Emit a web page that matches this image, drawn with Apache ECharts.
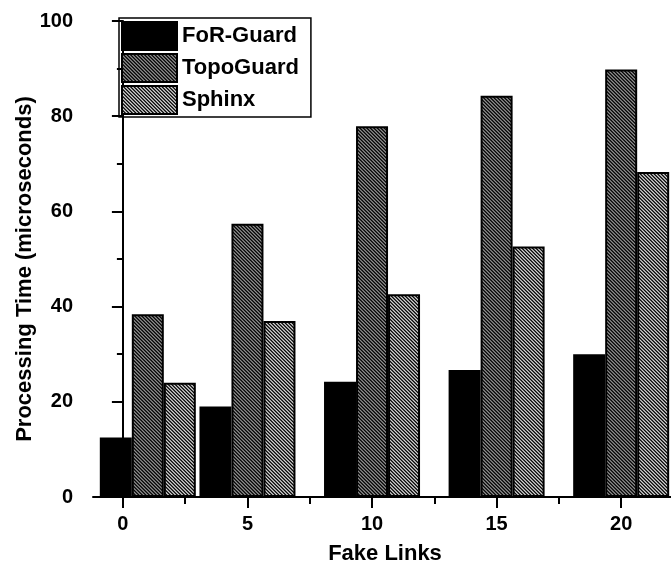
<!DOCTYPE html>
<html>
<head>
<meta charset="utf-8">
<script src="https://cdn.jsdelivr.net/npm/echarts@6/dist/echarts.min.js"></script>
<style>
  html, body { margin: 0; padding: 0; background: #fff; }
  #chart { width: 671px; height: 570px; }
</style>
</head>
<body>
<div id="chart"></div>
<script>
// Processing time per number of injected fake links
const fakeLinks = [1, 5, 10, 15, 20];
const forGuard  = [12.5, 19.0, 24.2, 26.7, 30.0];
const topoGuard = [38.4, 57.4, 77.9, 84.3, 89.8];
const sphinx    = [24.0, 37.0, 42.6, 52.6, 68.3];
const seriesNames = ['FoR-Guard', 'TopoGuard', 'Sphinx'];

const xTicks = [0, 5, 10, 15, 20];
const xMinorTicks = [2.5, 7.5, 12.5, 17.5];
const yMax = 100;
const yStep = 20;

const FONT = '"Liberation Sans", Arial, sans-serif';

// diagonal hatch fill: anti-aliased black "\" stripes over a grey ground
function hatch(ground) {
  const tile = 7, period = 3.5, stripe = 1.7, ss = 4;
  const c = document.createElement('canvas');
  c.width = c.height = tile;
  const g = c.getContext('2d');
  const img = g.createImageData(tile, tile);
  for (let y = 0; y < tile; y++) {
    for (let x = 0; x < tile; x++) {
      let hit = 0;
      for (let sy = 0; sy < ss; sy++) {
        for (let sx = 0; sx < ss; sx++) {
          const u = (x + (sx + 0.5) / ss) - (y + (sy + 0.5) / ss);
          const m = ((u % period) + period) % period;
          if (m < stripe) hit++;
        }
      }
      const cov = hit / (ss * ss);
      const v = Math.round(ground * (1 - cov));
      const k = (y * tile + x) * 4;
      img.data[k] = img.data[k + 1] = img.data[k + 2] = v;
      img.data[k + 3] = 255;
    }
  }
  g.putImageData(img, 0, 0);
  return { image: c, repeat: 'repeat' };
}

const fills = ['#000000', hatch(0x90), hatch(0xd4)];
const values = [forGuard, topoGuard, sphinx];

const chart = echarts.init(document.getElementById('chart'), null, { renderer: 'canvas' });

chart.setOption({
  animation: false,
  backgroundColor: '#fff',
  textStyle: { fontFamily: FONT },
  grid: { left: 93, top: 21, bottom: 73, right: 0, containLabel: false },
  legend: {
    orient: 'vertical',
    left: 119, top: 18,
    itemWidth: 55, itemHeight: 28, itemGap: 2,
    padding: [3, 12, 2, 2],
    borderColor: '#000', borderWidth: 1.5,
    icon: 'rect',
    data: seriesNames,
    textStyle: { fontFamily: FONT, fontSize: 22, fontWeight: 'bold', color: '#000' }
  },
  xAxis: [{
    type: 'value',
    min: -1.2, max: 22,
    position: 'bottom',
    name: 'Fake Links',
    nameLocation: 'middle',
    nameGap: 46,
    nameMoveOverlap: false,
    nameTextStyle: { fontFamily: FONT, fontSize: 22, fontWeight: 'bold', color: '#000', padding: [0, 0, 0, 6] },
    axisLine: { show: true, onZero: false, lineStyle: { color: '#000', width: 2 } },
    axisTick: { show: true, customValues: xTicks, length: 11, lineStyle: { color: '#000', width: 2 } },
    axisLabel: { customValues: xTicks, margin: 17, fontFamily: FONT, fontSize: 20, fontWeight: 'bold', color: '#000' },
    splitLine: { show: false }
  }, {
    // minor ticks between the labelled values
    type: 'value',
    min: -1.2, max: 22,
    position: 'bottom',
    axisLine: { show: false, onZero: false },
    axisTick: { show: true, customValues: xMinorTicks, length: 7, lineStyle: { color: '#000', width: 2 } },
    axisLabel: { show: false },
    splitLine: { show: false }
  }],
  yAxis: {
    type: 'value',
    min: 0, max: yMax, interval: yStep,
    name: 'Processing Time (microseconds)',
    nameLocation: 'middle',
    nameGap: 57,
    nameMoveOverlap: false,
    nameTextStyle: { fontFamily: FONT, fontSize: 22, fontWeight: 'bold', color: '#000', padding: [0, 20, 0, 0] },
    axisLine: { show: true, lineStyle: { color: '#000', width: 2 } },
    axisTick: { show: true, length: 11, lineStyle: { color: '#000', width: 2 } },
    minorTick: { show: true, splitNumber: 2, length: 6, lineStyle: { color: '#000', width: 2 } },
    axisLabel: { margin: 20, fontFamily: FONT, fontSize: 20, fontWeight: 'bold', color: '#000' },
    splitLine: { show: false },
    minorSplitLine: { show: false }
  },
  series: seriesNames.map((name, s) => ({
    name,
    type: 'bar',
    xAxisIndex: 0,
    barWidth: 32,
    barGap: '0%',
    data: fakeLinks.map((x, i) => [x, values[s][i]]),
    itemStyle: { color: fills[s], borderColor: '#000', borderWidth: 2 }
  }))
});
</script>
</body>
</html>
